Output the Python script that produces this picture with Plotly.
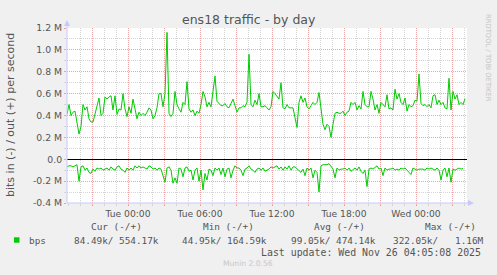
import plotly.graph_objects as go
import pandas as pd

# ---- data (bits per second, in units of M = 1e6) ----
start_time = "2025-11-24 18:55"
step_minutes = 10

out_bps_M = [
    0.41, 0.50, 0.40, 0.43, 0.44, 0.35, 0.23, 0.30, 0.50, 0.45,
    0.48, 0.37, 0.34, 0.34, 0.42, 0.50, 0.56, 0.40, 0.42, 0.57,
    0.55, 0.57, 0.58, 0.45, 0.58, 0.41, 0.46, 0.45, 0.60, 0.46,
    0.39, 0.48, 0.42, 0.55, 0.44, 0.37, 0.43, 0.40, 0.42, 0.40,
    0.43, 0.47, 0.45, 0.37, 0.40, 0.47, 0.60, 0.60, 0.48, 0.60,
    1.16,
    0.42, 0.39, 0.42, 0.62, 0.50, 0.46, 0.43, 0.52, 0.50, 0.71,
    0.46, 0.43, 0.45, 0.40, 0.44, 0.42, 0.50, 0.62, 0.57, 0.48,
    0.52, 0.48, 0.60, 0.76, 0.53, 0.51, 0.49, 0.49, 0.51, 0.48,
    0.47, 0.51, 0.55, 0.49, 0.43, 0.47, 0.47, 0.49, 0.48, 0.52,
    0.96, 0.50, 0.48, 0.54, 0.50, 0.60, 0.48, 0.48, 0.49, 0.47,
    0.45, 0.48, 0.62, 0.60, 0.58, 0.55, 0.70, 0.47, 0.46, 0.50,
    0.47, 0.47, 0.47, 0.38, 0.29, 0.52, 0.58, 0.52, 0.56, 0.48,
    0.46, 0.49, 0.52, 0.50, 0.52, 0.61, 0.47, 0.32, 0.27, 0.32,
    0.30, 0.20, 0.32, 0.42, 0.43, 0.42, 0.42, 0.44, 0.40, 0.43,
    0.44, 0.52, 0.50, 0.52, 0.45, 0.49, 0.46, 0.62, 0.50, 0.48,
    0.48, 0.62, 0.55, 0.45, 0.50, 0.42, 0.52, 0.50, 0.48, 0.59,
    0.46, 0.47, 0.45, 0.64, 0.55, 0.60, 0.52, 0.50, 0.56, 0.44,
    0.50, 0.48, 0.49, 0.54, 0.53, 0.78, 0.51, 0.49, 0.50, 0.48,
    0.50, 0.47, 0.58, 0.59, 0.50, 0.54, 0.50, 0.52, 0.47, 0.46,
    0.74, 0.45, 0.62, 0.55, 0.59, 0.50, 0.52, 0.50, 0.554,
]

in_bps_M = [
    0.07, 0.06, 0.06, 0.07, 0.06, 0.05, 0.20, 0.07, 0.06, 0.10,
    0.08, 0.12, 0.13, 0.09, 0.11, 0.08, 0.09, 0.08, 0.10, 0.09,
    0.08, 0.10, 0.07, 0.09, 0.10, 0.07, 0.06, 0.09, 0.10, 0.12,
    0.08, 0.10, 0.08, 0.10, 0.06, 0.08, 0.06, 0.08, 0.07, 0.08,
    0.09, 0.06, 0.07, 0.09, 0.08, 0.10, 0.08, 0.09, 0.15, 0.21,
    0.08,
    0.07, 0.10, 0.22, 0.17, 0.22, 0.08, 0.09, 0.16, 0.08, 0.07,
    0.11, 0.10, 0.19, 0.10, 0.08, 0.20, 0.10, 0.28, 0.13, 0.19,
    0.09, 0.10, 0.15, 0.08, 0.10, 0.08, 0.14, 0.08, 0.16, 0.09,
    0.08, 0.17, 0.10, 0.06, 0.08, 0.08, 0.10, 0.15, 0.09, 0.08,
    0.06, 0.09, 0.10, 0.12, 0.09, 0.08, 0.10, 0.08, 0.11, 0.10,
    0.09, 0.07, 0.08, 0.07, 0.06, 0.09, 0.07, 0.10, 0.07, 0.09,
    0.06, 0.10, 0.07, 0.07, 0.09, 0.10, 0.12, 0.09, 0.15, 0.08,
    0.10, 0.08, 0.17, 0.10, 0.12, 0.30, 0.06, 0.05, 0.05, 0.05,
    0.04, 0.06, 0.09, 0.17, 0.08, 0.10, 0.09, 0.09, 0.08, 0.10,
    0.08, 0.11, 0.09, 0.08, 0.10, 0.07, 0.11, 0.13, 0.10, 0.25,
    0.09, 0.08, 0.09, 0.07, 0.06, 0.09, 0.08, 0.15, 0.08, 0.10,
    0.09, 0.09, 0.08, 0.10, 0.09, 0.10, 0.08, 0.09, 0.08, 0.10,
    0.12, 0.14, 0.08, 0.09, 0.10, 0.09, 0.09, 0.09, 0.10, 0.08,
    0.09, 0.08, 0.09, 0.10, 0.08, 0.10, 0.19, 0.10, 0.08, 0.16,
    0.08, 0.21, 0.09, 0.10, 0.09, 0.08, 0.09, 0.0845,
]

y_tick_values_M = [-0.4, -0.2, 0.0, 0.2, 0.4, 0.6, 0.8, 1.0, 1.2]
y_tick_labels = ["-0.4 M", "-0.2 M", "0.0", "0.2 M", "0.4 M", "0.6 M", "0.8 M", "1.0 M", "1.2 M"]

legend_headers = ["Cur (-/+)", "Min (-/+)", "Avg (-/+)", "Max (-/+)"]
legend_in = ["84.49k/", "44.95k/", "99.05k/", "322.05k/"]
legend_out = ["554.17k", "164.59k", "474.14k", "1.16M"]
series_name = "bps"
title_text = "ens18 traffic - by day"
y_title = "bits in (-) / out (+) per second"
last_update = "Last update: Wed Nov 26 04:05:08 2025"
version_text = "Munin 2.0.56"
side_text = "RRDTOOL / TOBI OETIKER"

# ---- build ----
n = len(out_bps_M)
times = pd.date_range(start=start_time, periods=n, freq=f"{step_minutes}min")
times_in = pd.date_range(start=start_time, periods=len(in_bps_M), freq=f"{step_minutes}min")

W, H = 497, 275
L, R, T, B = 67, 467, 28, 203  # plot area pixels

def px(x):
    return (x - L) / (R - L)

def py(y):
    return (B - y) / (B - T)

GREEN = "#00CC00"
TXT = "#555555"
MAJOR = "#eba3a3"
MINOR = "#d4d4d4"
AXIS = "#c8c8ff"

fig = go.Figure()
fig.add_trace(go.Scatter(x=times, y=[v * 1e6 for v in out_bps_M], mode="lines",
                         line=dict(color=GREEN, width=1), hoverinfo="skip", showlegend=False))
fig.add_trace(go.Scatter(x=times_in, y=[-v * 1e6 for v in in_bps_M], mode="lines",
                         line=dict(color=GREEN, width=1), hoverinfo="skip", showlegend=False))

x_ticks = pd.date_range("2025-11-24 21:00", "2025-11-26 03:00", freq="3h")
x_text = [t.strftime("%a %H:%M") if t.hour % 6 == 0 else "" for t in x_ticks]

fig.update_layout(
    width=W, height=H,
    margin=dict(l=L, r=W - R, t=T, b=H - B, pad=0),
    paper_bgcolor="#F0F0F0", plot_bgcolor="#FFFFFF",
    font=dict(family="DejaVu Sans", size=9.3, color=TXT),
    showlegend=False,
    xaxis=dict(
        type="date",
        range=["2025-11-24 18:55", "2025-11-26 04:15"],
        tickmode="array", tickvals=list(x_ticks), ticktext=x_text,
        showgrid=True, gridcolor=MAJOR, griddash="1px,1px", gridwidth=1,
        ticks="outside", ticklen=2, tickcolor=MAJOR,
        minor=dict(tickmode="linear", tick0="2025-11-24 00:00", dtick=3600000,
                   showgrid=True, gridcolor=MINOR, griddash="1px,1px", gridwidth=1,
                   ticks="outside", ticklen=2, tickcolor=MINOR),
        showline=False, zeroline=False,
        tickfont=dict(size=9.2, color=TXT),
        fixedrange=True,
    ),
    yaxis=dict(
        range=[-0.4e6, 1.2e6],
        tickmode="array", tickvals=[v * 1e6 for v in y_tick_values_M], ticktext=y_tick_labels,
        showgrid=True, gridcolor=MAJOR, griddash="1px,1px", gridwidth=1,
        ticks="outside", ticklen=2, tickcolor=MAJOR,
        minor=dict(tickmode="linear", tick0=0, dtick=0.1e6,
                   showgrid=True, gridcolor=MINOR, griddash="1px,1px", gridwidth=1,
                   ticks="outside", ticklen=2, tickcolor=MINOR),
        zeroline=True, zerolinecolor="#000000", zerolinewidth=1,
        showline=False,
        tickfont=dict(size=9.3, color=TXT),
        fixedrange=True,
    ),
)

shapes = [
    # y axis line + arrow
    dict(type="line", xref="paper", yref="paper", x0=px(67), x1=px(67), y0=py(203), y1=py(24),
         line=dict(color=AXIS, width=1)),
    dict(type="path", xref="paper", yref="paper",
         path=f"M {px(64)} {py(26)} L {px(70)} {py(26)} L {px(67)} {py(20)} Z",
         fillcolor=AXIS, line=dict(color=AXIS, width=0)),
    # x axis line + arrow
    dict(type="line", xref="paper", yref="paper", x0=px(67), x1=px(469), y0=py(203), y1=py(203),
         line=dict(color=AXIS, width=1)),
    dict(type="path", xref="paper", yref="paper",
         path=f"M {px(468)} {py(200)} L {px(468)} {py(206)} L {px(474)} {py(203)} Z",
         fillcolor=AXIS, line=dict(color=AXIS, width=0)),
    # legend swatch
    dict(type="rect", xref="paper", yref="paper", x0=px(14), x1=px(19.5), y0=py(242.7), y1=py(237.3),
         fillcolor=GREEN, line=dict(width=0)),
]
fig.update_layout(shapes=shapes)

MONO = "DejaVu Sans Mono"
ann = []
def text(x, y, s, anchor="left", size=9.4, family=MONO, color=TXT, angle=0):
    ann.append(dict(x=px(x), y=py(y), xref="paper", yref="paper", text=s, showarrow=False,
                    xanchor=anchor, yanchor="middle", textangle=angle,
                    font=dict(family=family, size=size, color=color)))

text(248.7, 19.5, title_text, anchor="center", size=12.5, family="DejaVu Sans")
text(10, 115, y_title, anchor="center", size=11, family="DejaVu Sans", angle=-90)
text(488, 58, side_text, anchor="center", size=6.8, family="DejaVu Sans", color="#c4c4c4", angle=90)

header_x = [89.3, 201, 311.7, 422.7]
in_x = [72.3, 180, 289, 391]
out_x = [116.7, 225.3, 334, 453.3]
for hx, h in zip(header_x, legend_headers):
    text(hx, 226.7, h)
text(26.7, 240, series_name)
for ix, s in zip(in_x, legend_in):
    text(ix, 240, s)
for ox, s in zip(out_x, legend_out):
    text(ox, 240, s)
text(482.5, 252, last_update, anchor="right", size=9.9)
text(248, 263.3, version_text, anchor="center", size=7.6, family="DejaVu Sans", color="#c8c8c8")

fig.update_layout(annotations=ann)

fig.write_html("out.html")
